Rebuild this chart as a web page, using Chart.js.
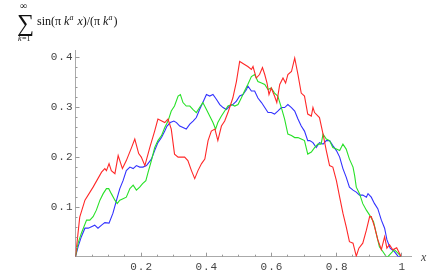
<!DOCTYPE html>
<html>
<head>
<meta charset="utf-8">
<script src="https://cdn.jsdelivr.net/npm/chart.js@4.4.1/dist/chart.umd.min.js"></script>
<style>
  html, body { margin: 0; padding: 0; background: #fff; }
  #wrap { width: 447px; height: 275px; position: relative; }
</style>
</head>
<body>
<div id="wrap"><canvas id="c"></canvas></div>
<script>
// values
var redX = [0,0.013,0.029,0.054,0.080,0.090,0.095,0.103,0.110,0.121,0.131,0.144,0.156,0.172,0.182,0.194,0.202,0.213,0.228,0.243,0.253,0.274,0.284,0.294,0.304,0.315,0.335,0.345,0.356,0.366,0.376,0.387,0.397,0.407,0.417,0.428,0.437,0.448,0.458,0.468,0.483,0.494,0.504,0.519,0.529,0.540,0.545,0.555,0.565,0.574,0.581,0.588,0.594,0.601,0.611,0.618,0.627,0.637,0.645,0.652,0.663,0.673,0.683,0.693,0.703,0.713,0.724,0.729,0.734,0.749,0.760,0.770,0.780,0.790,0.801,0.811,0.821,0.831,0.841,0.852,0.862,0.870,0.882,0.893,0.903,0.908,0.918,0.928,0.939,0.949,0.956,0.964,0.974,0.986,1.0];
var redY = [0,0.079,0.113,0.139,0.169,0.176,0.172,0.186,0.172,0.166,0.202,0.176,0.192,0.218,0.235,0.206,0.199,0.182,0.218,0.251,0.275,0.268,0.275,0.255,0.205,0.199,0.199,0.192,0.172,0.156,0.172,0.186,0.195,0.232,0.251,0.255,0.232,0.261,0.271,0.288,0.317,0.350,0.390,0.384,0.380,0.374,0.380,0.357,0.364,0.378,0.364,0.347,0.324,0.337,0.321,0.308,0.344,0.357,0.347,0.364,0.370,0.397,0.364,0.327,0.321,0.285,0.281,0.298,0.288,0.278,0.245,0.212,0.182,0.179,0.152,0.119,0.087,0.060,0.030,0.027,0.001,0.017,0.027,0.053,0.080,0.080,0.060,0.034,0.014,0.040,0.017,0.024,0.014,0.018,0.0];

var greenX = [0,0.008,0.018,0.034,0.044,0.054,0.064,0.075,0.085,0.095,0.102,0.110,0.121,0.128,0.136,0.146,0.156,0.167,0.177,0.187,0.197,0.206,0.216,0.223,0.233,0.243,0.253,0.264,0.274,0.284,0.294,0.304,0.315,0.322,0.330,0.340,0.351,0.361,0.371,0.381,0.391,0.402,0.412,0.422,0.430,0.437,0.448,0.458,0.468,0.479,0.489,0.499,0.509,0.519,0.529,0.540,0.550,0.560,0.571,0.581,0.591,0.601,0.611,0.621,0.632,0.642,0.652,0.663,0.673,0.683,0.693,0.703,0.713,0.724,0.734,0.744,0.754,0.760,0.770,0.780,0.790,0.801,0.811,0.821,0.831,0.841,0.852,0.857,0.862,0.872,0.882,0.893,0.903,0.915,0.923,0.933,0.944,0.956,0.969,0.979,0.990,1.0];
var greenY = [0,0.027,0.047,0.073,0.073,0.080,0.093,0.113,0.126,0.136,0.136,0.126,0.113,0.106,0.113,0.116,0.119,0.136,0.143,0.133,0.139,0.146,0.152,0.169,0.192,0.218,0.232,0.242,0.258,0.271,0.291,0.301,0.321,0.324,0.308,0.301,0.301,0.294,0.288,0.298,0.308,0.294,0.281,0.268,0.255,0.268,0.281,0.291,0.301,0.304,0.301,0.304,0.317,0.331,0.344,0.360,0.364,0.350,0.347,0.344,0.334,0.337,0.327,0.321,0.298,0.275,0.245,0.242,0.238,0.238,0.235,0.232,0.205,0.209,0.218,0.225,0.225,0.245,0.235,0.232,0.218,0.215,0.212,0.225,0.215,0.195,0.179,0.162,0.139,0.126,0.106,0.093,0.083,0.070,0.047,0.020,0.010,-0.002,0.007,0.014,0.007,0];

var blueX = [0,0.008,0.018,0.029,0.039,0.049,0.059,0.069,0.080,0.090,0.103,0.115,0.126,0.136,0.146,0.156,0.167,0.177,0.187,0.197,0.207,0.218,0.226,0.233,0.243,0.253,0.264,0.274,0.281,0.291,0.302,0.310,0.320,0.330,0.340,0.351,0.361,0.371,0.381,0.391,0.402,0.412,0.422,0.433,0.443,0.453,0.463,0.473,0.483,0.494,0.504,0.514,0.525,0.529,0.540,0.550,0.560,0.571,0.581,0.591,0.601,0.611,0.621,0.632,0.642,0.652,0.663,0.673,0.683,0.693,0.703,0.713,0.719,0.729,0.739,0.749,0.760,0.770,0.780,0.790,0.801,0.811,0.821,0.831,0.841,0.852,0.862,0.872,0.882,0.893,0.898,0.908,0.918,0.928,0.939,0.949,0.956,0.966,0.979,0.990,1.0];
var blueY = [0,0.020,0.040,0.057,0.057,0.060,0.063,0.057,0.063,0.068,0.067,0.087,0.113,0.136,0.152,0.172,0.179,0.176,0.182,0.179,0.179,0.182,0.189,0.195,0.212,0.228,0.238,0.251,0.261,0.268,0.271,0.268,0.261,0.258,0.255,0.265,0.271,0.278,0.294,0.308,0.324,0.321,0.324,0.314,0.304,0.298,0.294,0.301,0.304,0.311,0.321,0.324,0.334,0.341,0.331,0.331,0.317,0.308,0.298,0.288,0.288,0.285,0.291,0.298,0.298,0.304,0.298,0.291,0.275,0.261,0.251,0.232,0.232,0.228,0.218,0.228,0.225,0.232,0.232,0.222,0.212,0.199,0.176,0.159,0.139,0.133,0.129,0.123,0.123,0.119,0.126,0.119,0.106,0.096,0.073,0.057,0.034,0.017,0.010,0.001,0];

var xTickLabels = [0.2, 0.4, 0.6, 0.8, 1];
var yTickLabels = [0.1, 0.2, 0.3, 0.4];

function pts(xs, ys) {
    var out = [];
    for (var i = 0; i < Math.min(xs.length, ys.length); i++) out.push({x: xs[i], y: ys[i]});
    return out;
}

function fmt(v) { return v == 1 ? '1' : v.toFixed(1); }

// little inward ticks, tick labels, title and axis name, mathematica style
var decor = {
    id: 'decor',
    afterDraw: function (chart) {
        var ctx = chart.ctx;
        var xs = chart.scales.x, ys = chart.scales.y;
        var x0 = xs.getPixelForValue(0), y0 = ys.getPixelForValue(0);
        ctx.save();
        ctx.strokeStyle = '#999';
        ctx.lineWidth = 1;
        ctx.beginPath();
        for (var i = 1; i <= 20; i++) {
            var px = Math.round(xs.getPixelForValue(i * 0.05)) + 0.5;
            var len = (i % 4 == 0) ? 4 : 2;
            ctx.moveTo(px, y0);
            ctx.lineTo(px, y0 - len);
        }
        for (var j = 1; j <= 20; j++) {
            var py = Math.round(ys.getPixelForValue(j * 0.02)) + 0.5;
            var l2 = (j % 5 == 0) ? 4 : 2;
            ctx.moveTo(x0, py);
            ctx.lineTo(x0 + l2, py);
        }
        ctx.stroke();

        // tick labels
        ctx.fillStyle = '#444';
        ctx.font = '11px "Liberation Mono"';
        ctx.letterSpacing = '1px';
        ctx.textBaseline = 'middle';
        ctx.textAlign = 'center';
        xTickLabels.forEach(function (v) {
            ctx.fillText(fmt(v), xs.getPixelForValue(v) + 1, y0 + 10);
        });
        ctx.textAlign = 'right';
        yTickLabels.forEach(function (v) {
            ctx.fillText(fmt(v), x0 - 2, ys.getPixelForValue(v) + 0.5);
        });
        ctx.letterSpacing = '0px';

        // title
        ctx.fillStyle = '#111';
        ctx.textBaseline = 'alphabetic';
        ctx.textAlign = 'left';
        ctx.font = '24px "Liberation Serif"';
        ctx.fillText('\u2211', 17, 31);
        ctx.font = '10px "Liberation Serif"';
        ctx.fillText('\u221E', 20, 9);
        ctx.font = 'italic 8px "Liberation Serif"';
        ctx.fillText('k', 18, 41);
        ctx.font = '8px "Liberation Serif"';
        ctx.fillText('=1', 22, 41);

        var parts = [
            ['sin(\u03C0 ', '12px "Liberation Serif"', 0],
            ['k', 'italic 12px "Liberation Serif"', 0],
            ['a', 'italic 8px "Liberation Serif"', -5],
            [' x', 'italic 12px "Liberation Serif"', 0],
            [')/(\u03C0 ', '12px "Liberation Serif"', 0],
            ['k', 'italic 12px "Liberation Serif"', 0],
            ['a', 'italic 8px "Liberation Serif"', -5],
            [')', '12px "Liberation Serif"', 0]
        ];
        var cx = 37;
        parts.forEach(function (p) {
            ctx.font = p[1];
            ctx.fillText(p[0], cx, 25 + p[2]);
            cx += ctx.measureText(p[0]).width + (p[2] ? 1 : 0);
        });

        ctx.font = 'italic 12px "Liberation Serif"';
        ctx.fillStyle = '#444';
        ctx.fillText('x', 421, y0 + 4);
        ctx.restore();
    }
};

var chart = new Chart(document.getElementById('c'), {
    type: 'line',
    data: {
        datasets: [
            {label: 'red', data: pts(redX, redY), borderColor: 'rgb(255,40,40)', borderWidth: 1.1},
            {label: 'green', data: pts(greenX, greenY), borderColor: 'rgb(40,225,40)', borderWidth: 1.1},
            {label: 'blue', data: pts(blueX, blueY), borderColor: 'rgb(50,50,255)', borderWidth: 1.1}
        ]
    },
    options: {
        responsive: true,
        maintainAspectRatio: false,
        animation: false,
        layout: {padding: {top: 50, right: 36, left: 0, bottom: 0}},
        elements: {point: {radius: 0}, line: {tension: 0}},
        plugins: {legend: {display: false}, tooltip: {enabled: false}},
        scales: {
            x: {
                type: 'linear', min: 0, max: 1.03,
                grid: {display: false},
                border: {display: true, color: '#aaa', width: 1},
                afterBuildTicks: function (s) { s.ticks = xTickLabels.map(function (v) { return {value: v}; }); },
                afterFit: function (s) { s.height = 18.3; },
                ticks: {display: false}
            },
            y: {
                type: 'linear', min: 0, max: 0.413,
                grid: {display: false},
                border: {display: true, color: '#aaa', width: 1},
                afterBuildTicks: function (s) { s.ticks = yTickLabels.map(function (v) { return {value: v}; }); },
                afterFit: function (s) { s.width = 75.5; },
                ticks: {display: false}
            }
        }
    },
    plugins: [decor]
});
</script>
</body>
</html>
